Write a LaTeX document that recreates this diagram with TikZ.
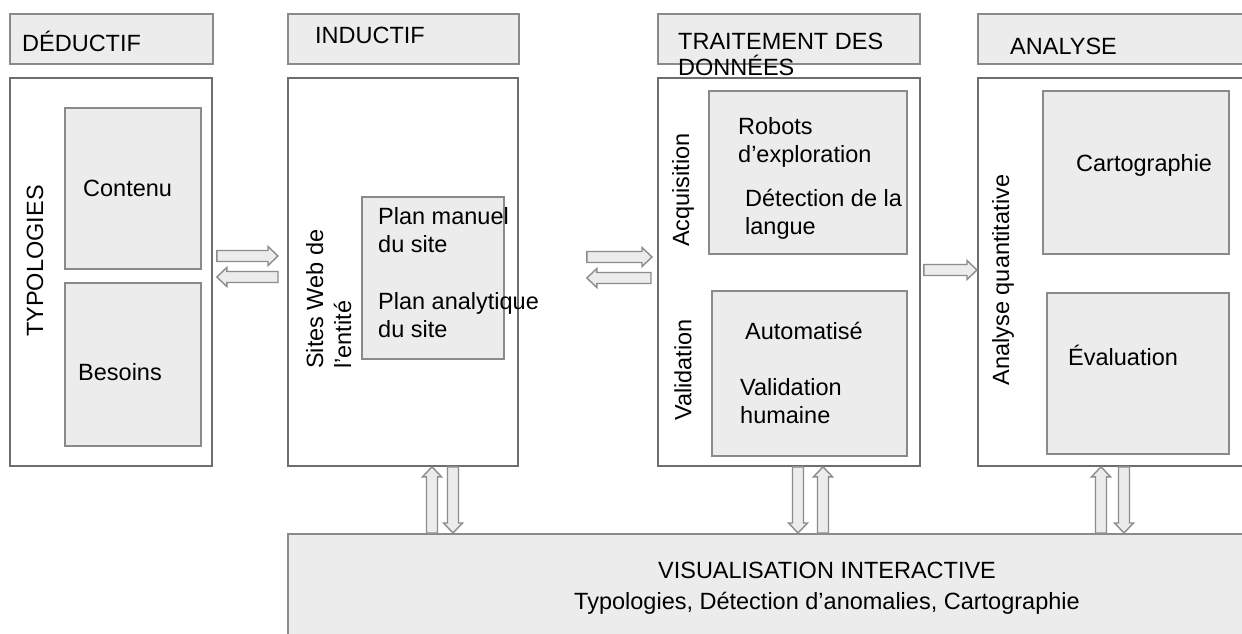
\documentclass[tikz,border=0pt]{standalone}
\usepackage{fontspec}
\setmainfont{Liberation Sans}
\usetikzlibrary{calc}
\definecolor{boxfill}{HTML}{ECECEC}
\definecolor{boxline}{HTML}{8A8A8A}
\definecolor{mainline}{HTML}{6E6E6E}
\definecolor{arrline}{HTML}{8C8C8C}
% horizontal block arrow: #1 = start, #2 = tip (same y)
\newcommand\harrow[2]{%
  \draw[blockarr] let \p1=(#1), \p2=(#2), \n1={sign(\x2-\x1)} in
    (\x1,\y1-5.5pt) -- ({\x2-\n1*10pt},\y1-5.5pt) -- ({\x2-\n1*10pt},\y1-9.5pt)
    -- (\x2,\y1) -- ({\x2-\n1*10pt},\y1+9.5pt) -- ({\x2-\n1*10pt},\y1+5.5pt)
    -- (\x1,\y1+5.5pt) -- cycle;}
% vertical block arrow: #1 = start, #2 = tip (same x)
\newcommand\varrow[2]{%
  \draw[blockarr] let \p1=(#1), \p2=(#2), \n1={sign(\y2-\y1)} in
    (\x1-5.5pt,\y1) -- (\x1-5.5pt,{\y2-\n1*10pt}) -- (\x1-9.5pt,{\y2-\n1*10pt})
    -- (\x1,\y2) -- (\x1+9.5pt,{\y2-\n1*10pt}) -- (\x1+5.5pt,{\y2-\n1*10pt})
    -- (\x1+5.5pt,\y1) -- cycle;}
\tikzset{
  hdr/.style={draw=boxline, fill=boxfill, line width=1.6pt, anchor=north west, inner sep=0pt},
  mainbox/.style={draw=mainline, fill=white, line width=1.8pt, anchor=north west, inner sep=0pt},
  inbox/.style={draw=boxline, fill=boxfill, line width=1.6pt, anchor=north west, inner sep=0pt},
  txt/.style={anchor=base west, inner sep=0pt},
  rtxt/.style={rotate=90, inner sep=0pt},
  blockarr/.style={draw=arrline, fill=boxfill, line width=1.4pt, line join=miter},
  every node/.style={font=\fontsize{23.5}{28}\selectfont}
}
\begin{document}
\begin{tikzpicture}[x=1pt, y=-1pt]
\useasboundingbox (0,0) rectangle (1242,634);
\clip (0,0) rectangle (1242,634);
\fill[white] (0,0) rectangle (1242,634);

% headers
\node[hdr, minimum width=203pt, minimum height=50pt] (hded) at (9,13) {};
\node[hdr, minimum width=231pt, minimum height=50pt] (hind) at (287,13) {};
\node[hdr, minimum width=262pt, minimum height=50pt] (htra) at (657,13) {};
\node[hdr, minimum width=290pt, minimum height=50pt] (hana) at (977,13) {};

% main boxes
\node[mainbox, minimum width=202pt, minimum height=388pt] (ded) at (9,77) {};
\node[mainbox, minimum width=230pt, minimum height=388pt] (ind) at (287,77) {};
\node[mainbox, minimum width=262pt, minimum height=388pt] (tra) at (657,77) {};
\node[mainbox, minimum width=290pt, minimum height=388pt] (ana) at (977,77) {};

% bottom box
\node[hdr, minimum width=1000pt, minimum height=130pt] (bot) at (287,533) {};

% inner boxes
\node[inbox, minimum width=136pt, minimum height=161pt] (contenu) at (64,107) {};
\node[inbox, minimum width=136pt, minimum height=163pt] (besoins) at (64,282) {};
\node[inbox, minimum width=142pt, minimum height=162pt] (plan) at (361,196) {};
\node[inbox, minimum width=198pt, minimum height=163pt] (acq) at (708,90) {};
\node[inbox, minimum width=195pt, minimum height=165pt] (val) at (711,290) {};
\node[inbox, minimum width=186pt, minimum height=163pt] (carto) at (1042,90) {};
\node[inbox, minimum width=182pt, minimum height=161pt] (eval) at (1046,292) {};

% header texts
\node[txt] (tded) at (22,52) {DÉDUCTIF};
\node[txt] (tind) at (315,44) {INDUCTIF};
\node[txt] (ttra1) at (678,49) {TRAITEMENT DES};
\node[txt] (ttra2) at (678,75) {DONNÉES};
\node[txt] (tana) at (1010,55) {ANALYSE};

% side (rotated) texts
\node[rtxt] (typo) at (35,261) {TYPOLOGIES};
\node[rtxt, align=left, anchor=north west] (sites) at (306,369) {Sites Web de\\l’entité};
\node[rtxt] (tacq) at (683,190) {Acquisition};
\node[rtxt] (tval) at (683,370) {Validation};
\node[rtxt] (tanq) at (1003,280) {Analyse quantitative};

% inner texts
\node[txt] (tcont) at (83,196) {Contenu};
\node[txt] (tbes) at (78,380) {Besoins};
\node[txt] (tpm1) at (378,224) {Plan manuel};
\node[txt] (tpm2) at (378,252) {du site};
\node[txt] (tpa1) at (378,309) {Plan analytique};
\node[txt] (tpa2) at (378,337) {du site};
\node[txt] (trob1) at (738,134) {Robots};
\node[txt] (trob2) at (738,162) {d’exploration};
\node[txt] (tdet1) at (745,206) {Détection de la};
\node[txt] (tdet2) at (745,234) {langue};
\node[txt] (tauto) at (745,339) {Automatisé};
\node[txt] (thum1) at (740,395) {Validation};
\node[txt] (thum2) at (740,423) {humaine};
\node[txt] (tcar) at (1076,171) {Cartographie};
\node[txt] (tev) at (1068,365) {Évaluation};

% bottom texts
\node[anchor=base, inner sep=0pt] (vis1) at (827,578) {VISUALISATION INTERACTIVE};
\node[anchor=base, inner sep=0pt] (vis2) at (827,609) {Typologies, Détection d’anomalies, Cartographie};

% horizontal block arrows
\harrow{$(ded.east |- 0,256)+(4,0)$}{$(ind.west |- 0,256)+(-9,0)$}
\harrow{$(ind.west |- 0,277)+(-9,0)$}{$(ded.east |- 0,277)+(4,0)$}
\harrow{$(ind.east |- 0,257)+(68,0)$}{$(tra.west |- 0,257)+(-5,0)$}
\harrow{$(tra.west |- 0,278)+(-6,0)$}{$(ind.east |- 0,278)+(68,0)$}
\harrow{$(tra.east |- 0,270)+(3,0)$}{ana.west |- 0,270}

% vertical block arrows
\varrow{432,0 |- bot.north}{432,0 |- ind.south}
\varrow{453,0 |- ind.south}{453,0 |- bot.north}
\varrow{798,0 |- tra.south}{798,0 |- bot.north}
\varrow{823,0 |- bot.north}{823,0 |- tra.south}
\varrow{1101,0 |- bot.north}{1101,0 |- ana.south}
\varrow{1124,0 |- ana.south}{1124,0 |- bot.north}
\end{tikzpicture}
\end{document}
